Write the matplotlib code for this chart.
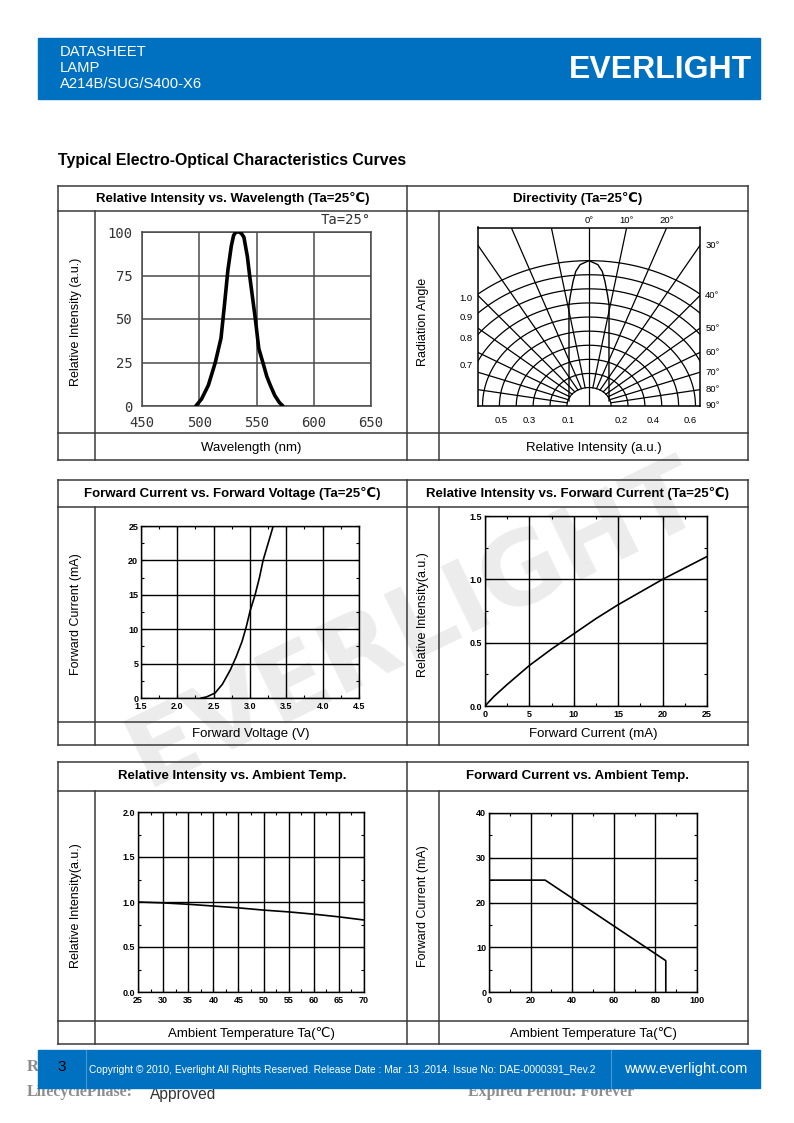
import numpy as np
import matplotlib
matplotlib.use("Agg")
import matplotlib.pyplot as plt
from matplotlib.patches import Rectangle

plt.rcParams['font.family'] = ['Liberation Sans', 'DejaVu Sans']

W, H = 794, 1123

# --- data ---
# relative intensity vs wavelength
wl_nm = [497, 502, 508, 514, 519, 522, 525, 528, 530, 532, 535, 537, 539, 542, 544, 547, 549, 552, 556, 559, 562, 566, 570, 573]
wl_int = [0, 4, 12, 25, 39, 58, 78, 92, 98, 100, 100, 99, 97, 86, 75, 60, 50, 33, 24, 17, 12, 6, 2, 0]
wl_xticks = [450, 500, 550, 600, 650]
wl_yticks = [0, 25, 50, 75, 100]

# directivity: (angle deg, relative intensity) of the beam lobe, one side
lobe_deg = [0, 3, 4.7, 6.1, 7.9, 9.4, 12, 15.5, 20, 29, 45, 73]
lobe_int = [1.0, 0.973, 0.927, 0.858, 0.766, 0.697, 0.54, 0.412, 0.315, 0.213, 0.137, 0.093]
dir_rings = [0.1, 0.2, 0.3, 0.4, 0.5, 0.6, 0.7, 0.8, 0.9, 1.0]
dir_spokes = [10, 20, 30, 40, 50, 60, 70, 80, 90]
dir_left_labels = ['1.0', '0.9', '0.8', '0.7']
dir_bottom_labels = ['0.5', '0.3', '0.1', '0.2', '0.4', '0.6']
dir_top_labels = ['0°', '10°', '20°']
dir_top_angles = [0, 10, 20]
dir_right_labels = ['30°', '40°', '50°', '60°', '70°', '80°', '90°']
dir_right_angles = [30, 40, 50, 60, 70, 80, 90]

# forward current vs forward voltage
vf_v = [2.33, 2.40, 2.52, 2.62, 2.73, 2.81, 2.89, 2.95, 3.00, 3.07, 3.13, 3.18, 3.25, 3.32]
vf_ma = [0, 0.15, 0.73, 2.0, 4.1, 6.0, 8.2, 10.4, 12.6, 15.0, 17.5, 20, 22.5, 25]

# relative intensity vs forward current
if_ma = [0, 1, 2.5, 5, 7.5, 10, 12.5, 15, 17.5, 20, 22.5, 25]
if_rel = [0, 0.075, 0.17, 0.32, 0.45, 0.57, 0.69, 0.80, 0.90, 1.0, 1.09, 1.18]

# relative intensity vs ambient temp
ta_c = [25, 30, 35, 40, 45, 50, 55, 60, 65, 70]
ta_rel = [1.0, 0.99, 0.975, 0.955, 0.935, 0.91, 0.89, 0.865, 0.835, 0.80]

# forward current derating
der_c = [0, 27, 85, 85]
der_ma = [25, 25, 7, 0]

BLUE = '#0070c0'
LINE = '#3a3a3a'

fig = plt.figure(figsize=(W / 100, H / 100), dpi=100)


def frac(x0, y0, x1, y1):
    return [x0 / W, 1 - y1 / H, (x1 - x0) / W, (y1 - y0) / H]


# page layer: header, table frames, footer, watermark
page = fig.add_axes([0, 0, 1, 1])
page.set_xlim(0, W)
page.set_ylim(H, 0)
page.axis('off')

page.text(415, 625, 'EVERLIGHT', rotation=26, ha='center', va='center', size=72,
          weight='bold', family='DejaVu Sans', color='#ececec', zorder=0)

page.add_patch(Rectangle((38, 38), 722, 61, color=BLUE, zorder=2))
for txt, y in [('DATASHEET', 52), ('LAMP', 68), ('A214B/SUG/S400-X6', 84)]:
    page.text(60, y, txt, color='white', size=10.6, va='center', zorder=3)
page.text(752, 70, 'EVERLIGHT', color='white', size=23, weight='bold', ha='right',
          va='center', zorder=3)

page.text(58, 160, 'Typical Electro-Optical Characteristics Curves', size=11.4,
          weight='bold', va='center')

L0, LM, R0, R1 = 58, 95, 407, 748
RM = 439
boxes = [  # top, header bottom, label-row top, bottom
    (186, 211, 433, 460),
    (480, 507, 722, 745),
    (762, 791, 1021, 1044),
]
titles = [
    ('Relative Intensity vs. Wavelength (Ta=25℃)', 'Directivity (Ta=25℃)'),
    ('Forward Current vs. Forward Voltage (Ta=25℃)', 'Relative Intensity vs. Forward Current (Ta=25℃)'),
    ('Relative Intensity vs. Ambient Temp.', 'Forward Current vs. Ambient Temp.'),
]
ylabels = [
    ('Relative Intensity (a.u.)', 'Radiation Angle'),
    ('Forward Current (mA)', 'Relative Intensity(a.u.)'),
    ('Relative Intensity(a.u.)', 'Forward Current (mA)'),
]
xlabels = [
    ('Wavelength (nm)', 'Relative Intensity (a.u.)'),
    ('Forward Voltage (V)', 'Forward Current (mA)'),
    ('Ambient Temperature Ta(℃)', 'Ambient Temperature Ta(℃)'),
]
for (t, hb, lt, b), tt, yl, xl in zip(boxes, titles, ylabels, xlabels):
    for y in (t, hb, lt, b):
        page.plot([L0, R1], [y, y], color=LINE, lw=1.1, zorder=1)
    for x in (L0, R0, R1):
        page.plot([x, x], [t, b], color=LINE, lw=1.1, zorder=1)
    for x in (LM, RM):
        page.plot([x, x], [hb, b], color=LINE, lw=1.1, zorder=1)
    page.text((L0 + R0) / 2, (t + hb) / 2, tt[0], size=9.5, weight='bold', ha='center', va='center')
    page.text((R0 + R1) / 2, (t + hb) / 2, tt[1], size=9.5, weight='bold', ha='center', va='center')
    page.text((L0 + LM) / 2, (hb + lt) / 2, yl[0], size=9, rotation=90, ha='center', va='center')
    page.text((R0 + RM) / 2, (hb + lt) / 2, yl[1], size=9, rotation=90, ha='center', va='center')
    page.text((LM + R0) / 2, (lt + b) / 2 + 1, xl[0], size=9.5, ha='center', va='center')
    page.text((RM + R1) / 2, (lt + b) / 2 + 1, xl[1], size=9.5, ha='center', va='center')

# footer
page.text(27, 1067, 'R', family='Liberation Serif', weight='bold', size=12, color='#8c8c8c',
          va='center', zorder=1)
page.text(27, 1092, 'LifecyclePhase:', family='Liberation Serif', weight='bold', size=11.4,
          color='#8c8c8c', va='center', zorder=1)
page.text(150, 1095, 'Approved', size=11.2, color='#333333', va='center', zorder=1)
page.text(468, 1092, 'Expired Period: Forever', family='Liberation Serif', weight='bold',
          size=11.4, color='#8c8c8c', va='center', zorder=1)
page.add_patch(Rectangle((38, 1050), 722, 38, color=BLUE, zorder=2))
for x in (85.5, 611):
    page.plot([x, x], [1050, 1088], color='#4a96d4', lw=0.8, zorder=3)
page.text(62, 1067, '3', color='black', size=11, ha='center', va='center', zorder=3)
page.text(89, 1070, 'Copyright © 2010, Everlight All Rights Reserved. Release Date : Mar .13 .2014. '
          'Issue No: DAE-0000391_Rev.2', color='white', size=7.35, va='center', zorder=3)
page.text(686, 1069, 'www.everlight.com', color='white', size=10.6, ha='center', va='center', zorder=3)

# --- chart 1: spectrum ---
ax1 = fig.add_axes(frac(142, 232, 371, 406))
ax1.set_facecolor('none')
ax1.plot(wl_nm, wl_int, color='black', lw=2.6, solid_capstyle='round', zorder=3)
ax1.set_xlim(450, 650)
ax1.set_ylim(0, 100)
ax1.set_xticks(wl_xticks)
ax1.set_yticks(wl_yticks)
ax1.grid(color='#4a4a4a', lw=1.1)
ax1.tick_params(length=0, pad=7, labelsize=10, labelcolor='#333333')
for lab in ax1.get_xticklabels() + ax1.get_yticklabels():
    lab.set_family('DejaVu Sans Mono')
for s in ax1.spines.values():
    s.set_color('#4a4a4a')
    s.set_linewidth(1.1)
ax1.text(1.0, 1.03, 'Ta=25°', transform=ax1.transAxes, ha='right', va='bottom',
         family='DejaVu Sans Mono', size=10, color='#333333')

# --- chart 2: directivity ---
XH, YT = 0.638, 1.228
ax2 = fig.add_axes(frac(478, 227.5, 700, 406))
ax2.set_facecolor('none')
ax2.set_xlim(-XH, XH)
ax2.set_ylim(0, YT)
ax2.set_xticks([])
ax2.set_yticks([])
for s in ax2.spines.values():
    s.set_color('black')
    s.set_linewidth(1.1)


def rho(i):
    return 0.03 + 0.97 * np.asarray(i)


t = np.radians(np.linspace(-90, 90, 361))
for ring in dir_rings:
    r = rho(ring)
    ax2.plot(r * np.sin(t), r * np.cos(t), color='black', lw=0.9)
r0 = rho(dir_rings[0])
for a in dir_spokes:
    for sgn in (-1, 1):
        ar = np.radians(sgn * a)
        ax2.plot([r0 * np.sin(ar), 3 * np.sin(ar)], [r0 * np.cos(ar), 3 * np.cos(ar)],
                 color='black', lw=0.9)
ax2.plot([0, 0], [0, YT], color='black', lw=0.9)

lobe_a = np.radians(np.concatenate([-np.array(lobe_deg[::-1]), lobe_deg[1:]]))
lobe_r = rho(np.concatenate([lobe_int[::-1], lobe_int[1:]]))
ax2.plot(lobe_r * np.sin(lobe_a), lobe_r * np.cos(lobe_a), color='black', lw=1.0)

for lab, ring in zip(dir_left_labels, dir_rings[::-1]):
    r = rho(ring)
    ax2.text(-XH - 0.03, np.sqrt(r ** 2 - XH ** 2) - 0.03, lab, ha='right', va='center',
             size=6.8, clip_on=False)
for lab, x in zip(dir_bottom_labels, [-0.503, -0.341, -0.121, 0.186, 0.368, 0.579]):
    ax2.text(x, -0.1, lab, ha='center', va='center', size=6.8, clip_on=False)
for lab, a in zip(dir_top_labels, dir_top_angles):
    ax2.text(YT * np.tan(np.radians(a)), YT + 0.015, lab, ha='center', va='bottom',
             size=6.8, clip_on=False)
for lab, a in zip(dir_right_labels, dir_right_angles):
    y = XH / np.tan(np.radians(a)) if a < 90 else 0.0
    ax2.text(XH + 0.03, y, lab, ha='left', va='center', size=6.8, clip_on=False)


def small_chart(rect, xlim, ylim, xt, yt, xminor, yminor, xlab, ylab):
    ax = fig.add_axes(frac(*rect))
    ax.set_facecolor('none')
    ax.set_xlim(xlim)
    ax.set_ylim(ylim)
    ax.set_xticks(xt)
    ax.set_xticklabels(xlab)
    ax.set_yticks(yt)
    ax.set_yticklabels(ylab)
    ax.set_xticks(xminor, minor=True)
    ax.set_yticks(yminor, minor=True)
    ax.grid(True, which='major', color='black', lw=1.0)
    ax.tick_params(which='both', direction='in', top=True, right=True, width=0.8,
                   labelsize=6.5)
    ax.tick_params(axis='x', pad=3)
    ax.tick_params(axis='y', pad=2)
    ax.tick_params(which='major', length=3)
    ax.tick_params(which='minor', length=2)
    for lab in ax.get_xticklabels() + ax.get_yticklabels():
        lab.set_weight('bold')
    for s in ax.spines.values():
        s.set_linewidth(1.0)
    return ax


ax3 = small_chart((141, 526, 359, 698), (1.5, 4.5), (0, 25),
                  [1.5, 2.0, 2.5, 3.0, 3.5, 4.0, 4.5], [0, 5, 10, 15, 20, 25],
                  np.arange(1.75, 4.5, 0.5), np.arange(2.5, 25, 5),
                  ['1.5', '2.0', '2.5', '3.0', '3.5', '4.0', '4.5'], ['0', '5', '10', '15', '20', '25'])
ax3.plot(vf_v, vf_ma, color='black', lw=1.2)

ax4 = small_chart((485, 516, 707, 706), (0, 25), (0, 1.5),
                  [0, 5, 10, 15, 20, 25], [0, 0.5, 1.0, 1.5],
                  np.arange(2.5, 25, 5), np.arange(0.25, 1.5, 0.5),
                  ['0', '5', '10', '15', '20', '25'], ['0.0', '0.5', '1.0', '1.5'])
ax4.plot(if_ma, if_rel, color='black', lw=1.2)

ax5 = small_chart((138, 812, 364, 992), (25, 70), (0, 2.0),
                  list(range(25, 71, 5)), [0, 0.5, 1.0, 1.5, 2.0],
                  np.arange(27.5, 70, 5), np.arange(0.25, 2.0, 0.5),
                  [str(v) for v in range(25, 71, 5)], ['0.0', '0.5', '1.0', '1.5', '2.0'])
ax5.plot(ta_c, ta_rel, color='black', lw=1.2)

ax6 = small_chart((489, 813, 697, 992), (0, 100), (0, 40),
                  [0, 20, 40, 60, 80, 100], [0, 10, 20, 30, 40],
                  np.arange(10, 100, 20), np.arange(5, 40, 10),
                  ['0', '20', '40', '60', '80', '100'], ['0', '10', '20', '30', '40'])
ax6.plot(der_c, der_ma, color='black', lw=1.2)

fig.savefig('out.png', dpi=100)
